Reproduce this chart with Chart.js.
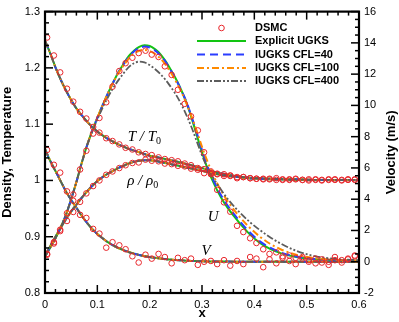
<!DOCTYPE html>
<html>
<head>
<meta charset="utf-8">
<script src="https://cdn.jsdelivr.net/npm/chart.js@4.4.0/dist/chart.umd.min.js"></script>
<style>
  html, body { margin: 0; padding: 0; background: #fff; }
  #wrap { width: 399px; height: 322px; }
</style>
</head>
<body>
<div id="wrap"><canvas id="c" width="399" height="322"></canvas></div>
<script>
// stations where the continuum solutions are sampled
const lineX = [0, 0.01, 0.02, 0.03, 0.04, 0.05, 0.06, 0.07, 0.08, 0.09,
  0.10, 0.11, 0.12, 0.13, 0.14, 0.15, 0.16, 0.17, 0.18, 0.19,
  0.20, 0.21, 0.22, 0.23, 0.24, 0.25, 0.26, 0.27, 0.28, 0.29,
  0.30, 0.31, 0.32, 0.33, 0.34, 0.35, 0.37, 0.39, 0.41, 0.43,
  0.45, 0.48, 0.51, 0.54, 0.57, 0.60];

// T/T0 and rho/rho0 (left axis), same for all four solvers
const tempRatio = [1.248, 1.226, 1.201, 1.179, 1.160, 1.143, 1.128, 1.116, 1.105, 1.095,
  1.087, 1.080, 1.074, 1.069, 1.064, 1.060, 1.056, 1.053, 1.050, 1.047,
  1.044, 1.042, 1.040, 1.038, 1.036, 1.034, 1.032, 1.029, 1.027, 1.024,
  1.022, 1.019, 1.016, 1.014, 1.012, 1.010, 1.007, 1.005, 1.004, 1.003,
  1.002, 1.002, 1.001, 1.001, 1.001, 1.001];
const densRatio = [0.866, 0.883, 0.900, 0.916, 0.931, 0.945, 0.957, 0.969, 0.980, 0.990,
  0.999, 1.006, 1.012, 1.017, 1.022, 1.026, 1.030, 1.033, 1.035, 1.036,
  1.036, 1.035, 1.033, 1.031, 1.029, 1.027, 1.025, 1.023, 1.021, 1.019,
  1.017, 1.015, 1.013, 1.011, 1.009, 1.008, 1.006, 1.004, 1.003, 1.002,
  1.002, 1.001, 1.001, 1.001, 1.001, 1.001];

// V velocity (right axis, m/s)
const velV = [7.2, 6.45, 5.8, 5.15, 4.5, 3.95, 3.45, 2.95, 2.5, 2.1,
  1.78, 1.5, 1.25, 1.05, 0.88, 0.74, 0.62, 0.52, 0.43, 0.36,
  0.3, 0.25, 0.21, 0.17, 0.14, 0.11, 0.09, 0.07, 0.05, 0.04,
  0.03, 0.02, 0.02, 0.01, 0.01, 0.01, 0, 0, 0, 0,
  0, 0, 0, 0, 0, 0];

// U velocity (right axis, m/s) per solver
const velU_explicit = [0.35, 0.9, 1.5, 2.2, 3.0, 4.0, 5.1, 6.3, 7.4, 8.35,
  9.2, 10.0, 10.75, 11.45, 12.1, 12.65, 13.15, 13.5, 13.75, 13.85,
  13.8, 13.6, 13.3, 12.85, 12.3, 11.7, 11.0, 10.2, 9.2, 8.1,
  7.0, 6.0, 5.2, 4.5, 3.9, 3.4, 2.55, 1.8, 1.22, 0.82,
  0.55, 0.3, 0.18, 0.12, 0.08, 0.05];
const velU_cfl40 = [0.35, 0.9, 1.5, 2.2, 3.0, 4.0, 5.1, 6.3, 7.4, 8.35,
  9.2, 10.0, 10.75, 11.45, 12.1, 12.62, 13.1, 13.45, 13.68, 13.76,
  13.7, 13.52, 13.22, 12.8, 12.27, 11.68, 11.0, 10.25, 9.3, 8.25,
  7.15, 6.15, 5.35, 4.65, 4.05, 3.55, 2.68, 1.92, 1.32, 0.9,
  0.6, 0.33, 0.19, 0.12, 0.08, 0.05];
const velU_cfl100 = [0.35, 0.9, 1.5, 2.2, 3.0, 4.0, 5.1, 6.3, 7.4, 8.35,
  9.2, 10.0, 10.75, 11.45, 12.05, 12.55, 13.0, 13.32, 13.5, 13.55,
  13.48, 13.3, 13.02, 12.62, 12.12, 11.55, 10.9, 10.15, 9.3, 8.35,
  7.35, 6.45, 5.65, 4.95, 4.35, 3.82, 2.95, 2.22, 1.62, 1.15,
  0.8, 0.45, 0.25, 0.15, 0.1, 0.07];
const velU_cfl400 = [0.35, 0.9, 1.5, 2.2, 3.0, 4.0, 5.1, 6.3, 7.4, 8.3,
  9.1, 9.85, 10.5, 11.1, 11.6, 12.05, 12.45, 12.7, 12.8, 12.75,
  12.58, 12.33, 12.02, 11.65, 11.2, 10.7, 10.1, 9.4, 8.6, 7.7,
  6.8, 6.05, 5.45, 4.92, 4.43, 3.98, 3.22, 2.58, 2.04, 1.57,
  1.17, 0.7, 0.4, 0.23, 0.14, 0.1];

// DSMC cells
const dsmcX = [0.004, 0.017, 0.029, 0.042, 0.054, 0.067, 0.079, 0.092, 0.104, 0.117,
  0.129, 0.142, 0.154, 0.167, 0.179, 0.192, 0.204, 0.217, 0.229, 0.242,
  0.254, 0.267, 0.279, 0.292, 0.304, 0.317, 0.329, 0.342, 0.354, 0.367,
  0.379, 0.392, 0.404, 0.417, 0.429, 0.442, 0.454, 0.467, 0.479, 0.492,
  0.504, 0.517, 0.529, 0.542, 0.554, 0.567, 0.579, 0.592];
const dsmcT = [1.254, 1.222, 1.192, 1.163, 1.140, 1.122, 1.110, 1.095, 1.085, 1.075,
  1.070, 1.064, 1.058, 1.055, 1.050, 1.047, 1.045, 1.041, 1.038, 1.036,
  1.034, 1.030, 1.027, 1.022, 1.020, 1.016, 1.012, 1.011, 1.009, 1.006,
  1.006, 1.004, 1.003, 1.003, 1.002, 1.004, 1.001, 1.002, 1.002, 1.001,
  1.002, 1.001, 1.000, 1.002, 1.001, 1.001, 1.002, 1.001];
const dsmcRho = [0.868, 0.888, 0.910, 0.928, 0.944, 0.962, 0.977, 0.990, 1.000, 1.010,
  1.016, 1.022, 1.027, 1.031, 1.032, 1.037, 1.035, 1.034, 1.030, 1.029,
  1.026, 1.025, 1.021, 1.019, 1.013, 1.013, 1.011, 1.008, 1.008, 1.004,
  1.006, 1.004, 1.003, 1.002, 1.003, 1.001, 1.002, 1.001, 1.003, 1.001,
  1.000, 1.002, 1.001, 1.001, 1.002, 1.000, 1.001, 1.002];
const dsmcU = [0.5, 1.25, 2.05, 3.1, 4.3, 5.9, 7.1, 8.2, 9.2, 10.2,
  11.2, 12.2, 12.7, 13.05, 13.35, 13.5, 13.25, 13.1, 12.5, 11.95,
  11.0, 10.1, 9.3, 8.4, 7.0, 5.6, 4.6, 3.8, 3.2, 2.3,
  1.9, 1.5, 1.2, 0.8, 0.5, 0.6, 0.35, 0.4, 0.25, 0.3,
  0.1, 0.2, 0.15, 0.0, 0.3, 0.1, 0.2, 0.4];
const dsmcV = [7.15, 6.2, 5.7, 4.5, 3.9, 3.0, 2.8, 2.1, 1.8, 0.9,
  1.25, 1.05, 0.8, 0.35, -0.05, 0.45, 0.2, 0.5, 0.3, -0.1,
  0.25, 0.1, 0.2, -0.2, 0.0, 0.05, -0.15, 0.1, -0.25, 0.05,
  -0.15, 0.3, 0.2, -0.35, 0.15, -0.1, 0.25, 0.05, -0.15, 0.2,
  0.0, -0.1, -0.05, -0.2, 0.1, -0.05, 0.15, 0.35];

// tick labels
const xTicks = [0, 0.1, 0.2, 0.3, 0.4, 0.5, 0.6];
const leftTicks = [0.8, 0.9, 1, 1.1, 1.2, 1.3];
const rightTicks = [-2, 0, 2, 4, 6, 8, 10, 12, 14, 16];

const pts = (xs, ys) => xs.map((x, i) => ({ x: x, y: ys[i] }));

const solvers = [
  { name: 'Explicit UGKS', u: velU_explicit, color: '#12c412', dash: [], width: 2, order: 4 },
  { name: 'IUGKS CFL=40', u: velU_cfl40, color: '#2b3dff', dash: [8, 5], width: 2, order: 3 },
  { name: 'IUGKS CFL=100', u: velU_cfl100, color: '#ff8a00', dash: [7, 3, 2, 3], width: 2, order: 2 },
  { name: 'IUGKS CFL=400', u: velU_cfl400, color: '#5c5c5c', dash: [7, 2, 2, 2, 2, 2], width: 1.8, order: 1 }
];

const datasets = [];
solvers.forEach(s => {
  [[tempRatio, 'y'], [densRatio, 'y'], [s.u, 'y2'], [velV, 'y2']].forEach(([ys, ax]) => {
    datasets.push({
      label: s.name,
      data: pts(lineX, ys),
      yAxisID: ax,
      showLine: true,
      borderColor: s.color,
      borderWidth: s.width,
      borderDash: s.dash,
      pointRadius: 0,
      cubicInterpolationMode: 'monotone',
      fill: false,
      order: s.order
    });
  });
});
[[dsmcT, 'y'], [dsmcRho, 'y'], [dsmcU, 'y2'], [dsmcV, 'y2']].forEach(([ys, ax]) => {
  datasets.push({
    label: 'DSMC',
    data: pts(dsmcX, ys),
    yAxisID: ax,
    showLine: false,
    pointStyle: 'circle',
    pointRadius: 2.8,
    pointBorderWidth: 1,
    pointBorderColor: '#e8262b',
    pointBackgroundColor: 'rgba(0,0,0,0)',
    order: 0
  });
});

// frame + inward ticks on all four sides
const frameTicks = {
  id: 'frameTicks',
  afterDatasetsDraw(chart) {
    const { ctx, chartArea: a, scales: { x, y, y2 } } = chart;
    ctx.save();
    ctx.strokeStyle = '#000';
    ctx.lineWidth = 1.5;
    const seg = (x1, y1, x2, y2_) => { ctx.beginPath(); ctx.moveTo(x1, y1); ctx.lineTo(x2, y2_); ctx.stroke(); };
    for (let i = 0; i <= 30; i++) {
      const px = x.getPixelForValue(i * 0.02), len = i % 5 ? 4 : 8;
      seg(px, a.bottom, px, a.bottom - len);
      seg(px, a.top, px, a.top + len);
    }
    for (let i = 0; i <= 25; i++) {
      const py = y.getPixelForValue(0.8 + i * 0.02), len = i % 5 ? 4 : 8;
      seg(a.left, py, a.left + len, py);
    }
    for (let i = 0; i <= 36; i++) {
      const py = y2.getPixelForValue(-2 + i * 0.5), len = i % 4 ? 4 : 8;
      seg(a.right, py, a.right - len, py);
    }
    ctx.lineWidth = 2.2;
    ctx.strokeRect(a.left, a.top, a.right - a.left, a.bottom - a.top);
    ctx.restore();
  }
};

// legend block, curve labels and right axis title
const extras = {
  id: 'extras',
  afterDraw(chart) {
    const { ctx, scales: { x, y, y2 } } = chart;
    ctx.save();
    // legend
    const lx0 = 197, lx1 = 246, tx = 255, rows = [28, 41, 54.5, 68, 81];
    ctx.font = 'bold 11px "Liberation Sans", Arial, sans-serif';
    ctx.textBaseline = 'middle';
    ctx.fillStyle = '#000';
    ctx.strokeStyle = '#e8262b';
    ctx.lineWidth = 1;
    ctx.beginPath(); ctx.arc(221.5, rows[0], 2.8, 0, Math.PI * 2); ctx.stroke();
    ctx.fillText('DSMC', tx, rows[0]);
    solvers.forEach((s, i) => {
      const ry = rows[i + 1];
      ctx.strokeStyle = s.color;
      ctx.lineWidth = s.width;
      ctx.setLineDash(s.dash);
      ctx.beginPath(); ctx.moveTo(lx0, ry); ctx.lineTo(lx1, ry); ctx.stroke();
      ctx.setLineDash([]);
      ctx.fillText(s.name, tx, ry);
    });

    // curve labels
    ctx.textBaseline = 'alphabetic';
    const label = (px, py, main, sub) => {
      ctx.font = 'italic 15px "Liberation Serif", "Times New Roman", serif';
      ctx.fillText(main, px, py);
      if (sub) {
        const w = ctx.measureText(main).width;
        ctx.font = '10px "Liberation Serif", "Times New Roman", serif';
        ctx.fillText(sub, px + w, py + 3);
      }
    };
    label(x.getPixelForValue(0.158), y.getPixelForValue(1.07), 'T / T', '0');
    label(x.getPixelForValue(0.157), y.getPixelForValue(0.992), '\u03C1 / \u03C1', '0');
    label(x.getPixelForValue(0.311), y2.getPixelForValue(2.6), 'U');
    label(x.getPixelForValue(0.299), y2.getPixelForValue(0.4), 'V');

    // right axis title, reading bottom to top
    ctx.font = 'bold 13px "Liberation Sans", Arial, sans-serif';
    ctx.textAlign = 'center';
    ctx.textBaseline = 'middle';
    ctx.translate(391, (chart.chartArea.top + chart.chartArea.bottom) / 2);
    ctx.rotate(-Math.PI / 2);
    ctx.fillText('Velocity (m/s)', 0, 0);
    ctx.restore();
  }
};

Chart.defaults.color = '#000';
Chart.defaults.font.family = '"Liberation Sans", Arial, sans-serif';

new Chart(document.getElementById('c'), {
  type: 'scatter',
  data: { datasets: datasets },
  options: {
    responsive: false,
    animation: false,
    devicePixelRatio: 1,
    layout: { padding: { top: 6, left: 0, right: 0, bottom: 0 } },
    plugins: { legend: { display: false }, tooltip: { enabled: false } },
    scales: {
      x: {
        type: 'linear', min: 0, max: 0.6,
        grid: { display: false, drawTicks: false },
        border: { display: false },
        afterBuildTicks: s => { s.ticks = xTicks.map(v => ({ value: v })); },
        afterFit: s => { s.height = 29; },
        ticks: { padding: 5, font: { size: 11 }, maxRotation: 0, callback: v => String(v) },
        title: { display: true, text: 'x', font: { size: 13, weight: 'bold' }, padding: { top: 0, bottom: 1 } }
      },
      y: {
        type: 'linear', position: 'left', min: 0.8, max: 1.3,
        grid: { display: false, drawTicks: false },
        border: { display: false },
        afterBuildTicks: s => { s.ticks = leftTicks.map(v => ({ value: v })); },
        afterFit: s => { s.width = 45; },
        ticks: { padding: 5, font: { size: 11 }, callback: v => String(v) },
        title: { display: true, text: 'Density, Temperature', font: { size: 13, weight: 'bold' }, padding: { top: 0, bottom: 0 } }
      },
      y2: {
        type: 'linear', position: 'right', min: -2, max: 16,
        grid: { display: false, drawTicks: false },
        border: { display: false },
        afterBuildTicks: s => { s.ticks = rightTicks.map(v => ({ value: v })); },
        afterFit: s => { s.width = 40; },
        ticks: { padding: 5, font: { size: 11 }, callback: v => String(v) }
      }
    }
  },
  plugins: [frameTicks, extras]
});
</script>
</body>
</html>
